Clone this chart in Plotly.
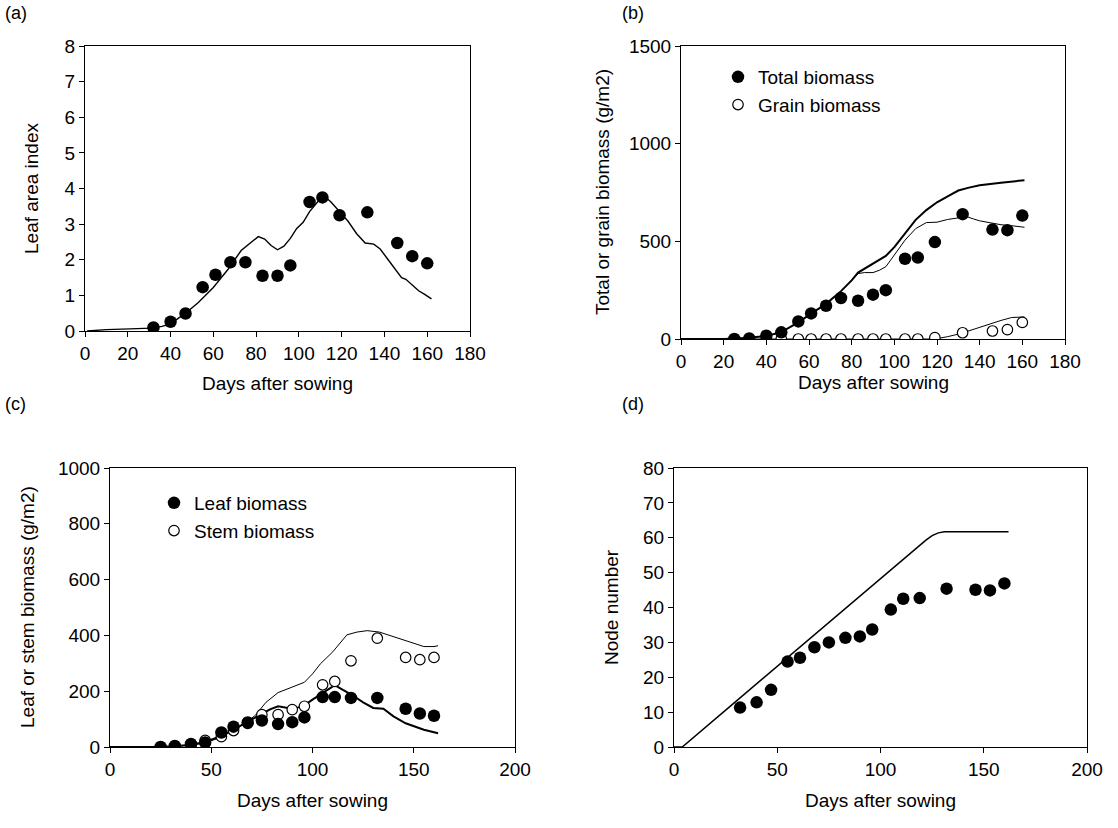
import plotly.graph_objects as go

# ---------------- Data ----------------
# (a) Leaf area index
lai_obs_days = [32, 40, 47, 55, 61, 68, 75, 83, 90, 96, 105, 111, 119, 132, 146, 153, 160]
lai_obs = [0.10, 0.26, 0.49, 1.23, 1.58, 1.93, 1.93, 1.55, 1.55, 1.84, 3.62, 3.75, 3.25, 3.33, 2.47, 2.10, 1.90]
lai_sim_days = [1, 10, 21, 31, 36, 40, 47, 53, 60, 67, 73, 78, 81, 84, 87, 90, 93, 96, 99, 102,
                105, 109, 112, 115, 119, 123, 127, 131, 135, 138, 142, 146, 148, 150, 153, 156, 159, 162]
lai_sim = [0.0, 0.04, 0.06, 0.08, 0.13, 0.20, 0.50, 0.80, 1.22, 1.74, 2.26, 2.50, 2.65, 2.58, 2.40, 2.28,
           2.38, 2.60, 2.88, 3.05, 3.35, 3.64, 3.78, 3.62, 3.35, 3.08, 2.73, 2.47, 2.44, 2.30, 1.98, 1.65,
           1.50, 1.45, 1.30, 1.13, 1.02, 0.90]

# (b) Total / grain biomass
total_obs_days = [25, 32, 40, 47, 55, 61, 68, 75, 83, 90, 96, 105, 111, 119, 132, 146, 153, 160]
total_obs = [0, 3, 17, 34, 90, 131, 170, 210, 196, 227, 250, 411, 417, 496, 639, 560, 557, 632]
grain_obs_days = [40, 47, 55, 61, 68, 75, 83, 90, 96, 105, 111, 119, 132, 146, 153, 160]
grain_obs = [0, 0, 0, 0, 0, 0, 0, 0, 0, 0, 0, 7, 32, 41, 48, 85]
total_sim_a_days = [0, 20, 30, 40, 47, 55, 61, 68, 75, 80, 83, 90, 96, 100, 105, 110, 115, 120, 125,
                    130, 135, 140, 150, 161]
total_sim_a = [0, 0, 5, 15, 35, 85, 130, 180, 245, 300, 340, 385, 425, 470, 540, 610, 660, 700, 730,
               760, 775, 787, 800, 813]
total_sim_b_days = [0, 20, 30, 40, 47, 55, 61, 68, 75, 80, 83, 86, 90, 93, 96, 100, 105, 110, 115, 120,
                    125, 130, 133, 137, 140, 145, 150, 155, 161]
total_sim_b = [0, 0, 5, 15, 35, 85, 130, 180, 245, 300, 335, 340, 340, 352, 370, 430, 506, 565, 596, 598,
               612, 620, 630, 615, 605, 595, 585, 580, 572]
grain_sim_days = [0, 119, 125, 130, 135, 140, 145, 150, 155, 161]
grain_sim = [0, 0, 12, 25, 42, 60, 78, 95, 110, 113]

# (c) Leaf / stem biomass
ls_obs_days = [25, 32, 40, 47, 55, 61, 68, 75, 83, 90, 96, 105, 111, 119, 132, 146, 153, 160]
leaf_obs = [0, 4, 11, 16, 52, 73, 88, 95, 82, 89, 106, 179, 179, 176, 176, 137, 120, 112]
stem_obs = [0, 2, 6, 24, 37, 59, 85, 116, 116, 134, 146, 223, 235, 309, 390, 321, 313, 321]
leaf_sim_days = [0, 24, 32, 40, 47, 55, 61, 68, 74, 79, 83, 87, 90, 93, 96, 100, 105, 111, 115, 119,
                 125, 130, 135, 140, 146, 150, 155, 162]
leaf_sim = [0, 0, 3, 8, 18, 40, 62, 90, 116, 135, 146, 140, 137, 142, 149, 170, 195, 222, 205, 189,
            160, 140, 137, 110, 85, 75, 62, 49]
stem_sim_days = [0, 24, 32, 40, 47, 55, 61, 68, 72, 77, 83, 89, 96, 100, 104, 110, 117, 122, 127, 133,
                 142, 150, 155, 160, 162]
stem_sim = [0, 0, 2, 6, 15, 35, 60, 92, 115, 160, 195, 213, 232, 262, 299, 341, 402, 412, 417, 412,
            390, 372, 360, 360, 363]

# (d) Node number
node_obs_days = [32, 40, 47, 55, 61, 68, 75, 83, 90, 96, 105, 111, 119, 132, 146, 153, 160]
node_obs = [11.3, 12.8, 16.4, 24.5, 25.6, 28.6, 30.0, 31.3, 31.7, 33.7, 39.4, 42.5, 42.7, 45.4, 45.1, 44.9, 46.9]
node_sim_days = [0, 4, 30, 50, 70, 90, 110, 122, 125, 128, 131, 162]
node_sim = [0, 0, 13.1, 23.2, 33.3, 43.4, 53.5, 59.3, 60.6, 61.4, 61.7, 61.7]

# ---------------- Figure ----------------
W, H = 1118, 828
FONT = "Liberation Sans, Arial, sans-serif"
FS = 19


def px_x(x):
    return x / W


def px_y(y):
    return 1 - y / H


fig = go.Figure()

filled = dict(symbol="circle", size=12.5, color="black", line=dict(width=0))
hollow = dict(symbol="circle", size=10.5, color="white", line=dict(width=1.2, color="black"))

# (a)
fig.add_trace(go.Scatter(x=lai_sim_days, y=lai_sim, mode="lines", line=dict(color="black", width=1.4),
                         xaxis="x", yaxis="y", showlegend=False))
fig.add_trace(go.Scatter(x=lai_obs_days, y=lai_obs, mode="markers", marker=filled,
                         xaxis="x", yaxis="y", showlegend=False))
# (b)
fig.add_trace(go.Scatter(x=total_sim_a_days, y=total_sim_a, mode="lines", line=dict(color="black", width=2),
                         xaxis="x2", yaxis="y2", showlegend=False))
fig.add_trace(go.Scatter(x=total_sim_b_days, y=total_sim_b, mode="lines", line=dict(color="black", width=1),
                         xaxis="x2", yaxis="y2", showlegend=False))
fig.add_trace(go.Scatter(x=grain_sim_days, y=grain_sim, mode="lines", line=dict(color="black", width=1),
                         xaxis="x2", yaxis="y2", showlegend=False))
fig.add_trace(go.Scatter(x=grain_obs_days, y=grain_obs, mode="markers", marker=hollow,
                         name="Grain biomass", xaxis="x2", yaxis="y2", legend="legend", legendrank=2))
fig.add_trace(go.Scatter(x=total_obs_days, y=total_obs, mode="markers", marker=filled,
                         name="Total biomass", xaxis="x2", yaxis="y2", legend="legend", legendrank=1))
# (c)
fig.add_trace(go.Scatter(x=leaf_sim_days, y=leaf_sim, mode="lines", line=dict(color="black", width=2),
                         xaxis="x3", yaxis="y3", showlegend=False))
fig.add_trace(go.Scatter(x=stem_sim_days, y=stem_sim, mode="lines", line=dict(color="black", width=1),
                         xaxis="x3", yaxis="y3", showlegend=False))
fig.add_trace(go.Scatter(x=ls_obs_days, y=stem_obs, mode="markers", marker=hollow,
                         name="Stem biomass", xaxis="x3", yaxis="y3", legend="legend2", legendrank=2))
fig.add_trace(go.Scatter(x=ls_obs_days, y=leaf_obs, mode="markers", marker=filled,
                         name="Leaf biomass", xaxis="x3", yaxis="y3", legend="legend2", legendrank=1))
# (d)
fig.add_trace(go.Scatter(x=node_sim_days, y=node_sim, mode="lines", line=dict(color="black", width=1.5),
                         xaxis="x4", yaxis="y4", showlegend=False))
fig.add_trace(go.Scatter(x=node_obs_days, y=node_obs, mode="markers", marker=filled,
                         xaxis="x4", yaxis="y4", showlegend=False))


def ax(domain, rng, dtick, anchor):
    return dict(domain=domain, range=rng, dtick=dtick, tick0=0, anchor=anchor, showgrid=False,
                zeroline=False, showline=True, linecolor="black", linewidth=1, mirror=True,
                automargin=False, ticks="outside", ticklen=5, tickcolor="black",
                tickfont=dict(family=FONT, size=FS, color="black"))


# plot-area boxes in pixels: left, right, top, bottom
boxes = {
    "a": (85, 470, 46, 331),
    "b": (681, 1065, 46, 339),
    "c": (110, 515, 468, 747),
    "d": (674, 1087, 468, 747),
}


def dom(b):
    l, r, t, bt = b
    return [px_x(l), px_x(r)], [px_y(bt), px_y(t)]


xa, ya = dom(boxes["a"])
xb, yb = dom(boxes["b"])
xc, yc = dom(boxes["c"])
xd, yd = dom(boxes["d"])

fig.update_layout(
    template="none",
    width=W, height=H, margin=dict(l=0, r=0, t=0, b=0, pad=0),
    paper_bgcolor="white", plot_bgcolor="white",
    font=dict(family=FONT, size=FS, color="black"),
    xaxis=ax(xa, [0, 180], 20, "y"), yaxis=ax(ya, [0, 8], 1, "x"),
    xaxis2=ax(xb, [0, 180], 20, "y2"), yaxis2=ax(yb, [0, 1500], 500, "x2"),
    xaxis3=ax(xc, [0, 200], 50, "y3"), yaxis3=ax(yc, [0, 1000], 200, "x3"),
    xaxis4=ax(xd, [0, 200], 50, "y4"), yaxis4=ax(yd, [0, 80], 10, "x4"),
    legend=dict(x=px_x(718), y=px_y(58), xanchor="left", yanchor="top", bgcolor="rgba(0,0,0,0)",
                font=dict(family=FONT, size=FS, color="black"), tracegroupgap=0, itemwidth=30),
    legend2=dict(x=px_x(154), y=px_y(484), xanchor="left", yanchor="top", bgcolor="rgba(0,0,0,0)",
                 font=dict(family=FONT, size=FS, color="black"), tracegroupgap=0, itemwidth=30),
)

ann = []
for lab, (x, y) in {"(a)": (3, 13), "(b)": (620, 13), "(c)": (3, 404), "(d)": (620, 404)}.items():
    ann.append(dict(text=lab, x=px_x(x), y=px_y(y), xref="paper", yref="paper", xanchor="left",
                    yanchor="middle", showarrow=False, font=dict(family=FONT, size=18, color="black")))

xtitles = [(277, 383), (873, 382), (312, 800), (880, 800)]
for x, y in xtitles:
    ann.append(dict(text="Days after sowing", x=px_x(x), y=px_y(y), xref="paper", yref="paper",
                    xanchor="center", yanchor="middle", showarrow=False,
                    font=dict(family=FONT, size=FS, color="black")))

ytitles = [("Leaf area index", 31, 189), ("Total or grain biomass (g/m2)", 602, 192),
           ("Leaf or stem biomass (g/m2)", 27, 607), ("Node number", 611, 607)]
for t, x, y in ytitles:
    ann.append(dict(text=t, x=px_x(x), y=px_y(y), xref="paper", yref="paper", textangle=-90,
                    xanchor="center", yanchor="middle", showarrow=False,
                    font=dict(family=FONT, size=FS, color="black")))

fig.update_layout(annotations=ann)
fig.write_html("out.html", config={"displayModeBar": False},
               post_script="document.body.style.margin='0';document.body.style.overflow='hidden';")
